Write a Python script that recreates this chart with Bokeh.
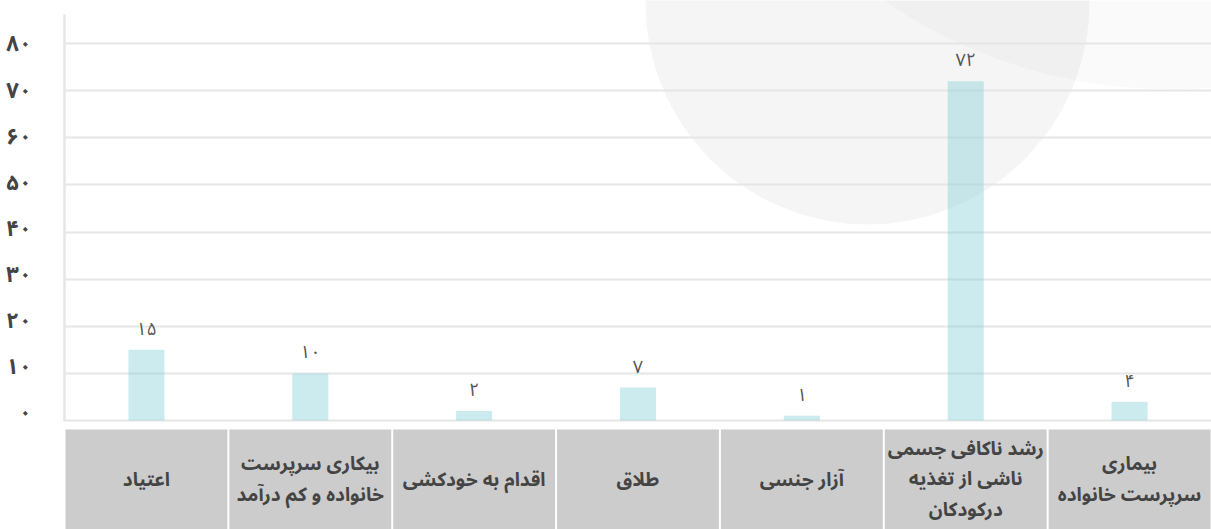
from bokeh.plotting import figure
from bokeh.models import (Range1d, LinearAxis, Grid, FixedTicker,
                          ColumnDataSource)
from bokeh.core.properties import value
from bokeh.embed import file_html
from bokeh.resources import INLINE

# ---- data ----
categories = ["اعتیاد", "بیکاری سرپرست خانواده و کم درآمد", "اقدام به خودکشی",
              "طلاق", "آزار جنسی", "رشد ناکافی جسمی ناشی از تغذیه درکودکان",
              "بیماری سرپرست خانواده"]
box_labels = ["اعتیاد", "بیکاری سرپرست\nخانواده و کم درآمد", "اقدام به خودکشی",
              "طلاق", "آزار جنسی", "رشد ناکافی جسمی\nناشی از تغذیه\nدرکودکان",
              "بیماری\nسرپرست خانواده"]
values = [15, 10, 2, 7, 1, 72, 4]
y_ticks = [0, 10, 20, 30, 40, 50, 60, 70, 80]

FA = "۰۱۲۳۴۵۶۷۸۹"
def fa(n):
    return "".join(FA[int(c)] for c in str(n))

FONT = "Noto Sans Arabic, DejaVu Sans"

W, H = 1211, 529
LEFT = 64
N = len(categories)

p = figure(width=W, height=H,
           x_range=Range1d(0, N),
           y_range=Range1d(-23.13, 89.13),
           x_axis_location=None, y_axis_location=None,
           toolbar_location=None, output_backend="svg",
           min_border_left=LEFT, min_border_right=0,
           min_border_top=0, min_border_bottom=0)
p.extra_x_ranges = {"px": Range1d(LEFT, W)}
p.extra_y_ranges = {"py": Range1d(H, 0), "lab": Range1d(-25.149, 89.539)}
p.outline_line_color = None
p.background_fill_color = "white"
p.border_fill_color = "white"
p.center = []

# background decorations (screen-pixel ranges)
p.circle(x=[1170], y=[-418], radius=507, x_range_name="px", y_range_name="py",
         fill_color="black", fill_alpha=0.02, line_color=None, level="image")
p.circle(x=[867], y=[2], radius=222, x_range_name="px", y_range_name="py",
         fill_color="black", fill_alpha=0.04, line_color=None, level="image")

# grid
grid = Grid(dimension=1, ticker=FixedTicker(ticks=y_ticks),
            grid_line_color="#e6e6e6", grid_line_width=2)
p.add_layout(grid, "center")

# y axis
yaxis = LinearAxis(y_range_name="lab", ticker=FixedTicker(ticks=y_ticks),
                   major_label_overrides={t: fa(t) for t in y_ticks},
                   bounds=(-1.73, 86.5))
yaxis.axis_line_color = "#e6e6e6"
yaxis.axis_line_width = 2.5
yaxis.major_tick_line_color = None
yaxis.minor_tick_line_color = None
yaxis.major_label_standoff = 27
yaxis.major_label_text_font = FONT
yaxis.major_label_text_font_style = "bold"
yaxis.major_label_text_font_size = "22px"
yaxis.major_label_text_color = "#444444"
p.add_layout(yaxis, "left")

src = ColumnDataSource(dict(x=[i + 0.5 for i in range(N)], cat=categories,
                            val=values, lbl=[fa(v) for v in values],
                            box=box_labels))

# bars
p.vbar(x="x", top="val", bottom=0, width=0.22, source=src,
       fill_color="#7fcdd8", fill_alpha=0.4, line_color=None)

# value labels
p.text(x="x", y="val", text="lbl", source=src, text_align="center",
       text_baseline="bottom", y_offset=-2, text_font=value(FONT),
       text_font_size="18px", text_color="#555555")

# category boxes
p.vbar(x="x", top=429, bottom=531, width=1 - 2 / 163.86, source=src,
       y_range_name="py", fill_color="#cccccc", line_color=None)
p.text(x="x", y=479, text="box", source=src, y_range_name="py",
       text_align="center", text_baseline="middle", text_line_height=0.76,
       text_font=value(FONT), text_font_style="bold", text_font_size="19px",
       text_color="#444444")

open("out.html", "w").write(file_html(p, INLINE))
